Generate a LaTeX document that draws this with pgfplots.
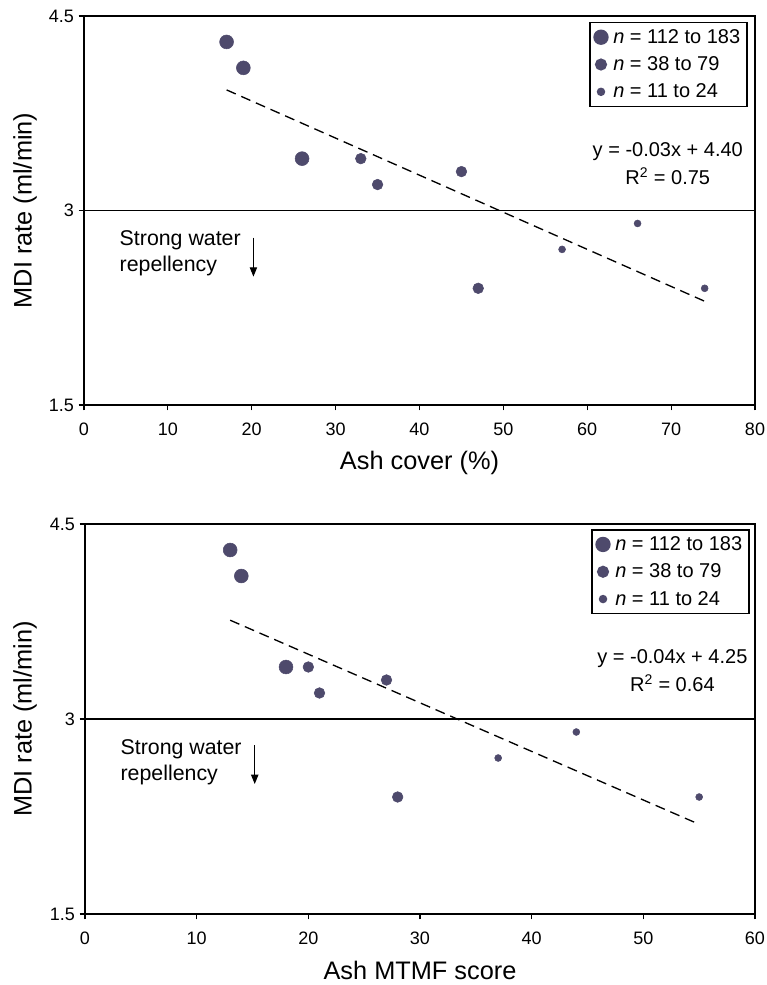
\documentclass[border=0pt]{standalone}
\usepackage{fontspec}
\setmainfont{Liberation Sans}
\usepackage{pgfplots}
\pgfplotsset{compat=1.18}
\usetikzlibrary{arrows.meta}
\definecolor{dotcol}{RGB}{78,74,108}

\pgfplotsset{
  mdi/.style={
    scale only axis,
    ymin=1.5, ymax=4.5,
    ytick={1.5,3,4.5}, yticklabels={1.5,3,4.5},
    axis line style={line width=1.1pt},
    tick align=outside, tick pos=left,
    major tick length=4pt,
    every tick/.style={black, line width=0.9pt},
    ticklabel style={font=\fontsize{13.5}{16}\selectfont},
    xticklabel style={yshift=-6pt},
    /pgf/number format/assume math mode=true,
    label style={font=\fontsize{19}{22}\selectfont},
    ylabel={MDI rate (ml/min)},
    legend cell align=left,
    legend style={draw=black, line width=1.1pt, font=\fontsize{15}{18}\selectfont,
      row sep=4.5pt, column sep=2pt, inner xsep=3pt, inner ysep=3pt},
  },
  big/.style={only marks, mark=*, mark size=5.2pt, color=dotcol},
  mid/.style={only marks, mark=*, mark size=4pt, color=dotcol},
  sml/.style={only marks, mark=*, mark size=2.6pt, color=dotcol},
  trend/.style={black, line width=1pt, dash pattern=on 7.5pt off 4.5pt, forget plot},
  cut/.style={black, line width=1.2pt, forget plot},
}

\begin{document}
\begin{tikzpicture}
\useasboundingbox (-63pt,-435pt) rectangle (512.25pt,303.75pt);

% top panel: ash cover
\begin{axis}[mdi, at={(0pt,0pt)}, anchor=south west,
  width=503.25pt, height=291.75pt,
  xmin=0, xmax=80, xtick={0,10,...,80},
  xlabel={Ash cover (\%)},
  xlabel style={at={(axis description cs:0.5,-0.148)}, anchor=center},
  ylabel style={at={(axis description cs:-0.088,0.5)}, anchor=center},
  legend style={at={(0.989,0.985)}, anchor=north east}]
\addplot[big] coordinates {(17,4.30) (19,4.10) (26,3.40)};
\addlegendentry{\textit{n} = 112 to 183}
\addplot[mid] coordinates {(33,3.40) (35,3.20) (45,3.30) (47,2.40)};
\addlegendentry{\textit{n} = 38 to 79}
\addplot[sml] coordinates {(57,2.70) (66,2.90) (74,2.40)};
\addlegendentry{\textit{n} = 11 to 24}
\addplot[cut] coordinates {(0,3) (80,3)};
\addplot[trend] coordinates {(17,3.93) (74,2.30)};
\node[align=center, font=\fontsize{15}{21}\selectfont] at (axis cs:69.6,3.365)
  {y = -0.03x + 4.40\\R\textsuperscript{2} = 0.75};
\node[align=left, anchor=west, font=\fontsize{16}{19.5}\selectfont] at (axis cs:3.7,2.67)
  {Strong water\\repellency};
\draw[-{Triangle[length=7pt,width=5.5pt]}, line width=0.8pt] (axis cs:20.2,2.79) -- (axis cs:20.2,2.49);
\end{axis}

% bottom panel: MTMF score
\begin{axis}[mdi, at={(0.75pt,-381.75pt)}, anchor=south west,
  width=502.5pt, height=292.5pt,
  xmin=0, xmax=60, xtick={0,10,...,60},
  xlabel={Ash MTMF score},
  xlabel style={at={(axis description cs:0.5,-0.146)}, anchor=center},
  ylabel style={at={(axis description cs:-0.0896,0.5)}, anchor=center},
  legend style={at={(0.992,0.987)}, anchor=north east}]
\addplot[big] coordinates {(13,4.30) (14,4.10) (18,3.40)};
\addlegendentry{\textit{n} = 112 to 183}
\addplot[mid] coordinates {(20,3.40) (21,3.20) (27,3.30) (28,2.40)};
\addlegendentry{\textit{n} = 38 to 79}
\addplot[sml] coordinates {(37,2.70) (44,2.90) (55,2.40)};
\addlegendentry{\textit{n} = 11 to 24}
\addplot[cut] coordinates {(0,3) (60,3)};
\addplot[trend] coordinates {(13,3.76) (55,2.19)};
\node[align=center, font=\fontsize{15}{21}\selectfont] at (axis cs:52.6,3.376)
  {y = -0.04x + 4.25\\R\textsuperscript{2} = 0.64};
\node[align=left, anchor=west, font=\fontsize{16}{19.5}\selectfont] at (axis cs:2.77,2.67)
  {Strong water\\repellency};
\draw[-{Triangle[length=7pt,width=5.5pt]}, line width=0.8pt] (axis cs:15.2,2.80) -- (axis cs:15.2,2.50);
\end{axis}
\end{tikzpicture}
\end{document}
